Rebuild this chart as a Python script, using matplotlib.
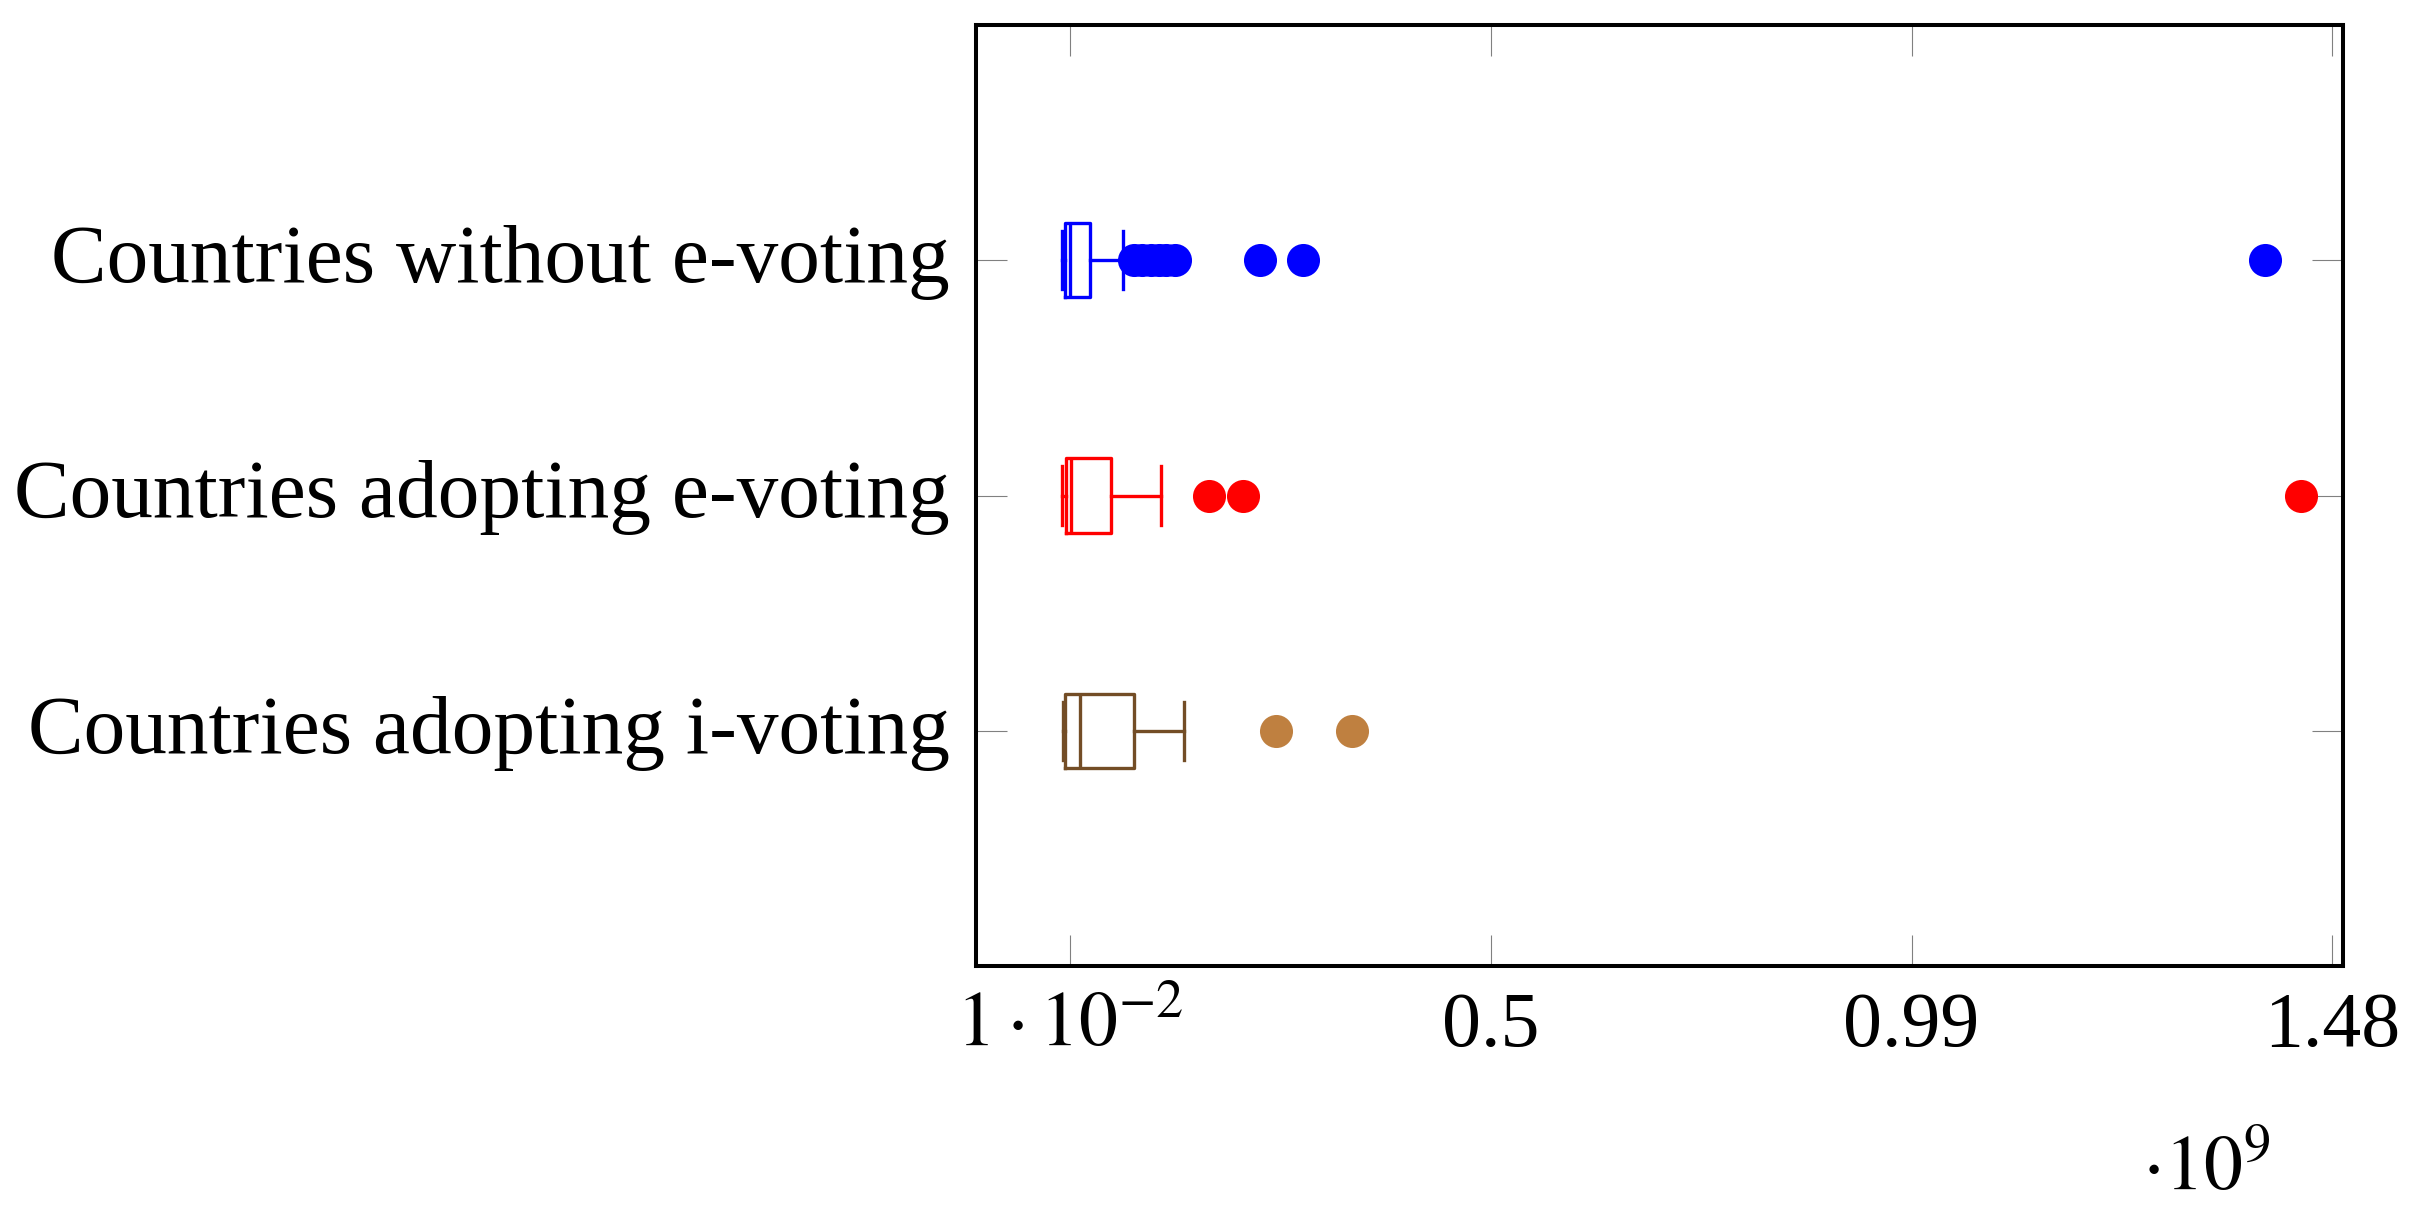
import matplotlib
matplotlib.use("Agg")
import matplotlib.pyplot as plt
import matplotlib.transforms as mtransforms

# values in units of 1e9 (population)
groups = ["Countries adopting i-voting", "Countries adopting e-voting", "Countries without e-voting"]
whislo = [0.001, 0.0, 0.0]
q1 = [0.0044, 0.005, 0.0033]
med = [0.0219, 0.0114, 0.0097]
q3 = [0.0842, 0.0574, 0.0335]
whishi = [0.1424, 0.1157, 0.0714]
fliers = [
    [0.2497, 0.3382],
    [0.1718, 0.2114, 1.443],
    [0.084, 0.093, 0.104, 0.113, 0.122, 0.132, 0.231, 0.281, 1.402],
]
box_colors = ["#734D26", "#FF0000", "#0000FF"]
flier_colors = ["#BF8040", "#FF0000", "#0000FF"]
xticks = [0.01, 0.5, 0.99, 1.48]
xticklabels = [r"$1\cdot10^{-2}$", "0.5", "0.99", "1.48"]

plt.rcParams["font.family"] = ["Liberation Serif", "DejaVu Serif"]
plt.rcParams["mathtext.fontset"] = "stix"

fig = plt.figure(figsize=(24.11, 12.2), dpi=100, facecolor="w")
ax = fig.add_axes([976 / 2411, 1 - 966 / 1220, (2343 - 976) / 2411, (966 - 25) / 1220])

pos = [1, 2, 3]
for i in range(len(groups)):
    st = dict(med=med[i], q1=q1[i], q3=q3[i], whislo=whislo[i], whishi=whishi[i],
              fliers=fliers[i], label="")
    c = box_colors[i]
    ax.bxp([st], positions=[pos[i]], widths=0.315, capwidths=0.247, vert=False,
           boxprops=dict(color=c, linewidth=2.4),
           whiskerprops=dict(color=c, linewidth=2.4),
           capprops=dict(color=c, linewidth=2.4),
           medianprops=dict(color=c, linewidth=2.4),
           flierprops=dict(marker="o", markerfacecolor=flier_colors[i],
                           markeredgewidth=0, markersize=23.8))

ax.set_xlim(-0.0998, 1.4925)
ax.set_ylim(0, 4)
ax.set_yticks(pos)
ax.set_yticklabels([])
ax.set_xticks(xticks)
ax.set_xticklabels(xticklabels, fontsize=56)
for lab in ax.get_xticklabels():
    lab.set_va("baseline")
ax.tick_params(axis="x", direction="in", length=22.3, width=0.8, color="#808080",
               top=True, pad=57.6)
ax.tick_params(axis="y", direction="in", length=22.3, width=0.8, color="#808080",
               right=True)
for s in ax.spines.values():
    s.set_linewidth(2.9)

# category labels, a bit above the tick like pgfplots does
lab_tr = ax.get_yaxis_transform() + mtransforms.ScaledTranslation(-19 / 72, 5 / 72, fig.dpi_scale_trans)
for p, g in zip(pos, groups):
    ax.text(0, p, g, transform=lab_tr, fontsize=60, ha="right", va="center_baseline")

fig.text(2142 / 2411, 1 - 1190 / 1220, r"$\cdot10^{9}$", fontsize=56,
         ha="left", va="baseline")

fig.savefig("out.png", dpi=100)
